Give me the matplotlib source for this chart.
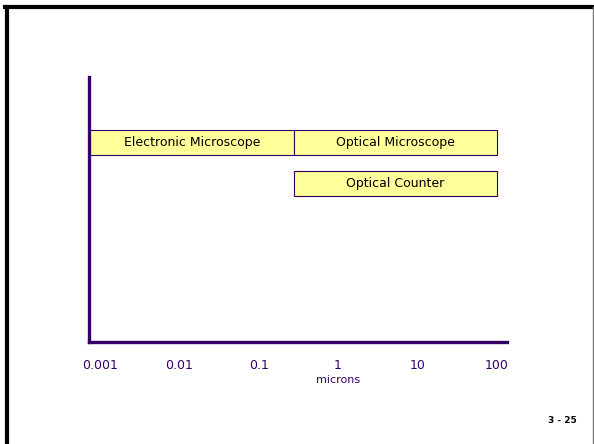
import matplotlib.pyplot as plt
from matplotlib.lines import Line2D

# size ranges in microns
methods = ["Electronic Microscope", "Optical Microscope", "Optical Counter"]
low = [0.00073, 0.28, 0.28]
high = [0.28, 100, 100]
rows = [0, 0, 1]

ticks = [0.001, 0.01, 0.1, 1, 10, 100]
tick_labels = ["0.001", "0.01", "0.1", "1", "10", "100"]

purple = "#330066"
fill = "#ffff99"

fig = plt.figure(figsize=(5.94, 4.44), dpi=100)

# slide frame
fig.add_artist(Line2D([6.5 / 594, 6.5 / 594], [0, 1 - 7 / 444], color="black", lw=3, transform=fig.transFigure))
fig.add_artist(Line2D([5 / 594, 1], [1 - 7 / 444, 1 - 7 / 444], color="black", lw=3, transform=fig.transFigure))
fig.add_artist(Line2D([592.5 / 594, 592.5 / 594], [0, 1 - 7 / 444], color="#777777", lw=1, transform=fig.transFigure))

ax = fig.add_axes([89 / 594, (444 - 342) / 444, (507 - 89) / 594, (342 - 77) / 444])
ax.set_xscale("log")
ax.set_xlim(10 ** -3.14, 10 ** 2.13)
ax.set_ylim(4.866, -1.6)

for name, lo, hi, r in zip(methods, low, high, rows):
    ax.barh(r, hi - lo, left=lo, height=0.61, color=fill, edgecolor=purple, linewidth=0.8)
    ax.text((lo * hi) ** 0.5, r, name, ha="center", va="center", fontsize=9, color="black")

for s in ["top", "right"]:
    ax.spines[s].set_visible(False)
for s in ["left", "bottom"]:
    ax.spines[s].set_color(purple)
    ax.spines[s].set_linewidth(2.4)

ax.set_yticks([])
ax.set_xticks(ticks)
ax.set_xticklabels(tick_labels)
ax.minorticks_off()
ax.tick_params(axis="x", length=0, pad=12, labelsize=9, labelcolor=purple)
ax.annotate("microns", xy=(1, 0), xycoords=("data", "axes fraction"), xytext=(0, -27),
            textcoords="offset points", ha="center", va="center", fontsize=8, color=purple)
ax.patch.set_alpha(0)

fig.text(577 / 594, 1 - 420 / 444, "3 - 25", ha="right", va="center", fontsize=6.5, fontweight="bold")

plt.savefig("out.png")
